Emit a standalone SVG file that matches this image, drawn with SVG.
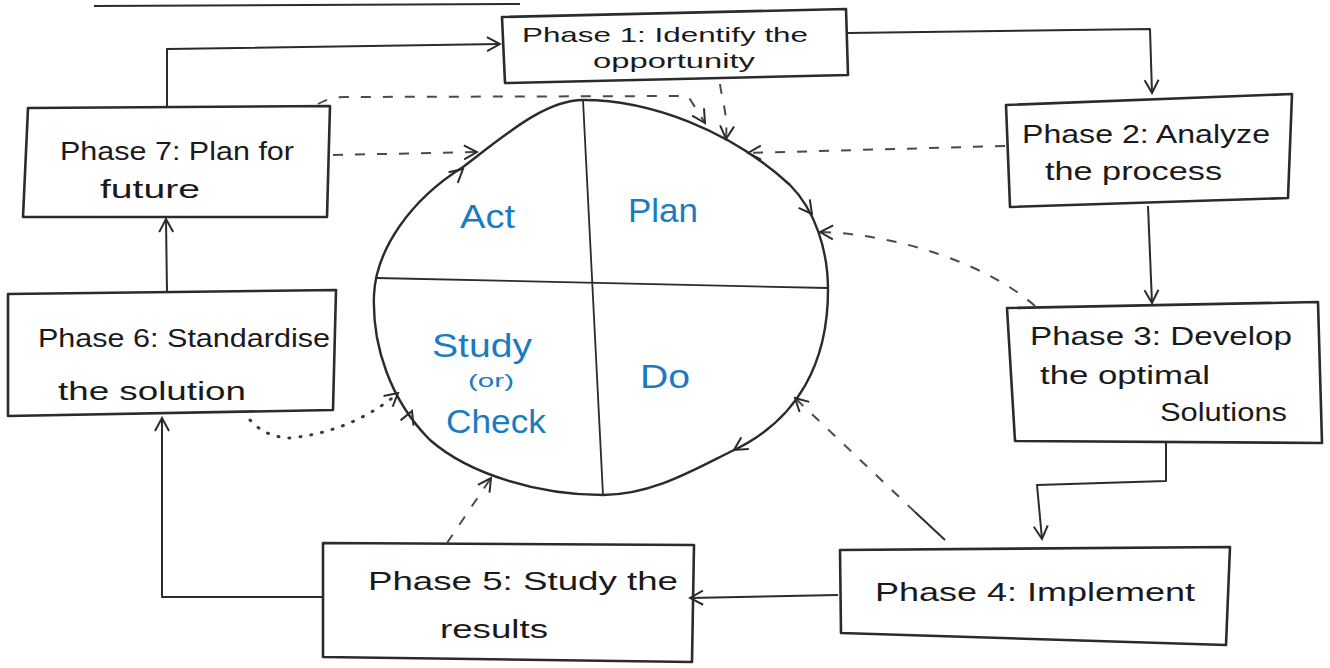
<svg xmlns="http://www.w3.org/2000/svg" width="1330" height="668" viewBox="0 0 1330 668">
<style>
.bg{fill:#ffffff}
.box{fill:none;stroke:#2b2b2b;stroke-width:2.6;stroke-linejoin:round}
.lbl{font-family:"Liberation Sans",Arial,sans-serif;font-size:26px;fill:#1a1a1a}
.lbls{font-family:"Liberation Sans",Arial,sans-serif;font-size:21px;fill:#1a1a1a}
.pdca{font-family:"Liberation Sans",Arial,sans-serif;font-size:34px;fill:#1b7bc2}
.pdcas{font-family:"Liberation Sans",Arial,sans-serif;font-size:19px;fill:#1b7bc2}
.solid{fill:none;stroke:#2b2b2b;stroke-width:2;stroke-linejoin:round}
.dash{fill:none;stroke:#4a4a4a;stroke-width:2;stroke-dasharray:10 12}
.dot{fill:none;stroke:#3a3a3a;stroke-width:3;stroke-dasharray:1 10;stroke-linecap:round}
.tan{fill:none;stroke:none}
.blob{fill:none;stroke:#2b2b2b;stroke-width:2.4}
.div{fill:none;stroke:#2b2b2b;stroke-width:1.8}
</style>
<defs>
<marker id="ah" markerUnits="userSpaceOnUse" markerWidth="18" markerHeight="18" viewBox="0 0 18 18" refX="16" refY="9" orient="auto">
<path d="M3,2 L16,9 L3,16" fill="none" stroke="#2b2b2b" stroke-width="2"/>
</marker>
</defs>
<rect class="bg" x="0" y="0" width="1330" height="668"/>
<path class="solid" d="M94,6 L520,4" stroke-width="3"/>

<g id="cycle">
<path class="blob" d="M583,100 C650,100 730,130 790,185 C815,210 828,250 828,290 C828,360 800,420 730,452 C690,472 650,495 603,495 C540,495 470,475 430,440 C390,400 372,345 374,295 C376,250 410,200 463,167 C505,135 545,100 583,100 Z"/>
<path class="div" d="M376,278 L828,288"/>
<path class="div" d="M583,100 L603,495"/>
<text class="pdca" x="460" y="228" textLength="55" lengthAdjust="spacingAndGlyphs">Act</text>
<text class="pdca" x="628" y="222" textLength="70" lengthAdjust="spacingAndGlyphs">Plan</text>
<text class="pdca" x="432" y="357" textLength="100" lengthAdjust="spacingAndGlyphs">Study</text>
<text class="pdcas" x="468" y="387" textLength="46" lengthAdjust="spacingAndGlyphs">(or)</text>
<text class="pdca" x="446" y="433" textLength="100" lengthAdjust="spacingAndGlyphs">Check</text>
<text class="pdca" x="640" y="388" textLength="50" lengthAdjust="spacingAndGlyphs">Do</text>
<path class="tan" d="M448,182 L463,169" marker-end="url(#ah)"/>
<path class="tan" d="M800,198 L812,214" marker-end="url(#ah)"/>
<path class="tan" d="M750,440 L734,450" marker-end="url(#ah)"/>
<path class="tan" d="M405,428 L412,411" marker-end="url(#ah)"/>
</g>

<g id="phase1">
<path class="box" d="M502,17 L846,9 L848,75 L505,83 Z"/>
<text class="lbls" x="522" y="42" textLength="286" lengthAdjust="spacingAndGlyphs">Phase 1: Identify the</text>
<text class="lbls" x="593" y="68" textLength="162" lengthAdjust="spacingAndGlyphs">opportunity</text>
</g>
<g id="phase2">
<path class="box" d="M1006,105 L1292,94 L1288,198 L1010,207 Z"/>
<text class="lbl" x="1022" y="143" textLength="248" lengthAdjust="spacingAndGlyphs">Phase 2: Analyze</text>
<text class="lbl" x="1045" y="180" textLength="177" lengthAdjust="spacingAndGlyphs">the process</text>
</g>
<g id="phase3">
<path class="box" d="M1007,308 L1318,302 L1322,443 L1015,441 Z"/>
<text class="lbl" x="1030" y="345" textLength="262" lengthAdjust="spacingAndGlyphs">Phase 3: Develop</text>
<text class="lbl" x="1040" y="384" textLength="170" lengthAdjust="spacingAndGlyphs">the optimal</text>
<text class="lbl" x="1160" y="421" textLength="127" lengthAdjust="spacingAndGlyphs">Solutions</text>
</g>
<g id="phase4">
<path class="box" d="M840,550 L1230,547 L1226,645 L841,633 Z"/>
<text class="lbl" x="875" y="601" textLength="320" lengthAdjust="spacingAndGlyphs">Phase 4: Implement</text>
</g>
<g id="phase5">
<path class="box" d="M323,543 L694,545 L692,662 L323,657 Z"/>
<text class="lbl" x="368" y="590" textLength="310" lengthAdjust="spacingAndGlyphs">Phase 5: Study the</text>
<text class="lbl" x="440" y="638" textLength="108" lengthAdjust="spacingAndGlyphs">results</text>
</g>
<g id="phase6">
<path class="box" d="M8,294 L336,290 L333,410 L8,416 Z"/>
<text class="lbl" x="38" y="347" textLength="292" lengthAdjust="spacingAndGlyphs">Phase 6: Standardise</text>
<text class="lbl" x="58" y="400" textLength="188" lengthAdjust="spacingAndGlyphs">the solution</text>
</g>
<g id="phase7">
<path class="box" d="M28,108 L330,106 L327,217 L23,217 Z"/>
<text class="lbl" x="60" y="160" textLength="234" lengthAdjust="spacingAndGlyphs">Phase 7: Plan for</text>
<text class="lbl" x="100" y="198" textLength="100" lengthAdjust="spacingAndGlyphs">future</text>
</g>

<g id="connectors">
<path class="solid" d="M167,106 L167,49 L500,44" marker-end="url(#ah)"/>
<path class="solid" d="M848,33 L1150,29 L1152,93" marker-end="url(#ah)"/>
<path class="solid" d="M1148,206 L1152,303" marker-end="url(#ah)"/>
<path class="solid" d="M1166,443 L1166,481 L1037,485 L1042,539" marker-end="url(#ah)"/>
<path class="solid" d="M838,595 L690,598" marker-end="url(#ah)"/>
<path class="solid" d="M323,597 L162,597 L162,418" marker-end="url(#ah)"/>
<path class="solid" d="M167,292 L166,219" marker-end="url(#ah)"/>
<path class="dash" d="M318,104 Q330,97 345,97 L688,96 L705,123" marker-end="url(#ah)"/>
<path class="dash" d="M720,84 C722,100 728,115 726,139" marker-end="url(#ah)"/>
<path class="dash" d="M1005,146 L748,153" marker-end="url(#ah)"/>
<path class="dash" d="M1035,306 C990,266 900,234 820,232" marker-end="url(#ah)"/>
<path class="solid" d="M945,540 L915,512"/>
<path class="dash" d="M915,512 L795,398" marker-end="url(#ah)"/>
<path class="dash" d="M447,543 L491,478" marker-end="url(#ah)"/>
<path class="dot" d="M250,420 Q265,437 290,438 Q350,432 396,395"/>
<path class="tan" d="M385,404 L398,393" marker-end="url(#ah)"/>
<path class="dash" d="M333,155 L477,152" marker-end="url(#ah)"/>
</g>
</svg>
